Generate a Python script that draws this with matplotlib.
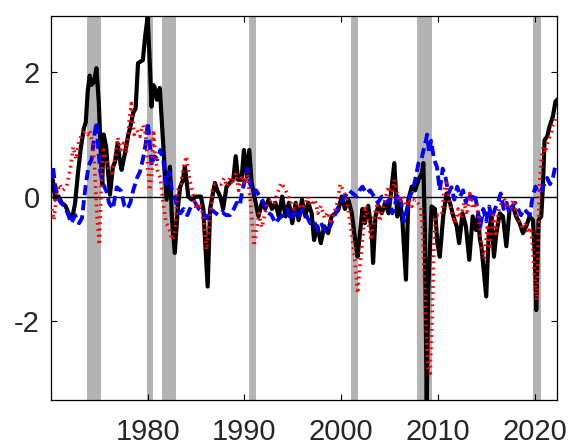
import numpy as np
import matplotlib
matplotlib.use("Agg")
import matplotlib.pyplot as plt

plt.rcParams['font.family'] = ['Liberation Sans', 'DejaVu Sans']

# recession periods (start, end)
recessions = [(1973.75, 1975.15), (1979.95, 1980.55), (1981.45, 1982.9),
              (1990.45, 1991.15), (2001.0, 2001.75), (2007.85, 2009.4),
              (2019.85, 2020.7)]

# black solid series
black_t = [1970.0, 1970.2, 1970.45, 1970.8, 1971.1, 1971.5, 1971.9, 1972.2, 1972.5, 1972.8,
           1973.1, 1973.4, 1973.6, 1973.8, 1974.0, 1974.2, 1974.45, 1974.7, 1974.95, 1975.2,
           1975.3, 1975.45, 1975.7, 1975.9, 1976.1, 1976.4, 1976.6, 1976.9, 1977.1, 1977.3,
           1977.65, 1978.0, 1978.2, 1978.5, 1978.75, 1979.0, 1979.5, 1979.75, 1980.0, 1980.2,
           1980.4, 1980.55, 1980.7, 1980.95, 1981.25, 1981.6, 1981.95, 1982.3, 1982.5, 1982.8,
           1983.1, 1983.35, 1983.6, 1983.85, 1984.2, 1984.55, 1985.0, 1985.5, 1985.75, 1986.2,
           1986.45, 1986.95, 1987.2, 1987.5, 1987.8, 1988.15, 1988.5, 1988.85, 1989.1, 1989.35,
           1989.7, 1989.95, 1990.25, 1990.5, 1990.75, 1991.1, 1991.45, 1991.8, 1992.15, 1992.5,
           1992.85, 1993.2, 1993.55, 1993.9, 1994.25, 1994.6, 1994.95, 1995.3, 1995.6, 1995.95,
           1996.3, 1996.6, 1996.95, 1997.2, 1997.55, 1997.9, 1998.25, 1998.65, 1999.0, 1999.4,
           1999.7, 2000.05, 2000.4, 2000.75, 2001.1, 2001.45, 2001.7, 2001.95, 2002.2, 2002.45,
           2002.8, 2003.15, 2003.3, 2003.55, 2003.85, 2004.2, 2004.55, 2004.9, 2005.15, 2005.5,
           2005.8, 2006.1, 2006.35, 2006.7, 2006.95, 2007.3, 2007.65, 2008.0, 2008.35, 2008.5,
           2008.65, 2008.85, 2009.0, 2009.35, 2009.7, 2009.95, 2010.2, 2010.55, 2010.9, 2011.25,
           2011.6, 2011.95, 2012.2, 2012.55, 2012.9, 2013.25, 2013.6, 2013.95, 2014.15, 2014.35,
           2014.5, 2014.77, 2015.0, 2015.26, 2015.54, 2015.8, 2016.05, 2016.4, 2016.73, 2017.08,
           2017.42, 2017.76, 2018.1, 2018.45, 2018.8, 2019.14, 2019.48, 2019.83, 2020.05, 2020.17,
           2020.41, 2020.69, 2020.86, 2021.03, 2021.31, 2021.55, 2021.89, 2022.16, 2022.27]
black_v = [0.38, 0.25, -0.05, 0.0, -0.1, -0.15, -0.3, -0.35, -0.1, 0.4,
           0.8, 1.1, 1.2, 1.7, 1.95, 1.8, 1.85, 2.07, 1.5, 0.5,
           0.2, 1.0, 0.8, 0.4, 0.03, 0.48, 0.55, 0.86, 0.6, 0.43,
           0.7, 1.0, 1.12, 1.35, 1.42, 2.15, 2.2, 2.6, 2.9, 2.2,
           1.45, 1.8, 1.77, 1.56, 1.75, 0.86, -0.05, 0.48, -0.33, -0.91,
           -0.21, 0.15, 0.25, 0.48, 0.0, -0.05, 0.0, 0.0, -0.2, -1.45,
           -0.2, 0.22, 0.1, 0.0, -0.2, 0.16, 0.22, 0.27, 0.65, 0.27,
           0.27, 0.75, 0.32, 0.75, 0.22, -0.05, -0.32, -0.1, -0.2, -0.05,
           -0.2, -0.1, -0.32, 0.0, -0.32, -0.1, -0.43, -0.1, -0.38, -0.05,
           -0.32, -0.1, -0.27, -0.7, -0.48, -0.75, -0.48, -0.59, -0.32, -0.27,
           -0.22, 0.0, -0.2, -0.05, -0.27, -0.7, -0.97, -0.59, -0.2, -0.43,
           -0.15, -0.54, -1.07, -0.32, -0.15, -0.27, -0.1, -0.27, 0.05, 0.54,
           -0.32, -0.05, -0.43, -1.34, -0.05, 0.16, 0.1, 0.27, 0.38, 0.54,
           -0.5, -3.4, -1.56, -0.16, -0.2, -0.75, -0.97, -0.32, 0.05, -0.1,
           -0.32, -0.48, -0.75, -0.27, -0.48, -1.02, -0.32, -0.54, -0.3, -0.7,
           -0.8, -1.23, -1.61, -0.59, -0.32, -0.97, -0.59, -0.27, -0.32, -0.8,
           -0.2, -0.16, -0.32, -0.43, -0.59, -0.48, -0.32, -0.38, -1.0, -1.83,
           -0.38, -0.32, 0.16, 0.91, 0.97, 1.13, 1.29, 1.53, 1.55]

# red dotted series
red_t = [1970.1, 1970.3, 1970.6, 1970.9, 1971.2, 1971.6, 1972.0, 1972.3, 1972.6, 1972.9,
         1973.2, 1973.5, 1973.8, 1974.0, 1974.3, 1974.5, 1974.75, 1975.0, 1975.2, 1975.4,
         1975.7, 1976.0, 1976.3, 1976.6, 1976.9, 1977.2, 1977.5, 1977.8, 1978.1, 1978.3,
         1978.6, 1978.9, 1979.2, 1979.5, 1979.8, 1980.0, 1980.2, 1980.4, 1980.6, 1980.8,
         1981.0, 1981.3, 1981.6, 1981.9, 1982.2, 1982.5, 1982.8, 1983.1, 1983.4, 1983.7,
         1984.0, 1984.3, 1984.6, 1985.0, 1985.3, 1985.6, 1985.9, 1986.1, 1986.4, 1986.7,
         1987.0, 1987.3, 1987.6, 1987.9, 1988.2, 1988.5, 1988.8, 1989.1, 1989.4, 1989.7,
         1990.0, 1990.3, 1990.6, 1990.8, 1991.0, 1991.2, 1991.5, 1991.8, 1992.1, 1992.4,
         1992.8, 1993.1, 1993.4, 1993.8, 1994.1, 1994.4, 1994.8, 1995.1, 1995.5, 1995.9,
         1996.2, 1996.6, 1996.9, 1997.3, 1997.6, 1997.9, 1998.3, 1998.6, 1998.9, 1999.2,
         1999.6, 1999.9, 2000.2, 2000.5, 2000.8, 2001.1, 2001.4, 2001.7, 2001.9, 2002.2,
         2002.5, 2002.8, 2003.1, 2003.4, 2003.7, 2004.0, 2004.3, 2004.6, 2004.9, 2005.2,
         2005.5, 2005.8, 2006.1, 2006.4, 2006.7, 2007.0, 2007.3, 2007.6, 2007.9, 2008.2,
         2008.4, 2008.6, 2008.8, 2009.0, 2009.2, 2009.4, 2009.6, 2009.8, 2010.1, 2010.4,
         2010.7, 2010.9, 2011.2, 2011.5, 2011.8, 2012.1, 2012.4, 2012.7, 2013.0, 2013.3,
         2013.6, 2013.9, 2014.2, 2014.5, 2014.8, 2015.1, 2015.4, 2015.7, 2016.0, 2016.3,
         2016.6, 2016.9, 2017.2, 2017.5, 2017.8, 2018.1, 2018.4, 2018.7, 2019.0, 2019.3,
         2019.6, 2019.8, 2020.0, 2020.2, 2020.35, 2020.5, 2020.7, 2020.9, 2021.1, 2021.4,
         2021.7, 2021.9, 2022.2]
red_v = [-0.2, -0.38, 0.05, 0.2, 0.1, 0.15, 0.45, 0.8, 0.6, 0.9,
         1.0, 1.05, 1.0, 1.07, 0.86, 0.5, -0.3, -0.78, 0.2, 0.75,
         0.6, 0.45, 0.38, 0.6, 0.95, 0.75, 0.86, 0.7, 1.24, 1.5,
         1.0, 1.07, 0.97, 1.15, 1.0, 0.5, 0.1, 0.3, 1.07, 0.6,
         0.43, 0.3, -0.1, -0.43, -0.5, -0.7, -0.6, 0.1, 0.2, 0.48,
         0.65, 0.3, 0.1, -0.2, -0.1, -0.2, -0.6, -0.86, -0.4, 0.1,
         0.2, 0.2, 0.2, 0.3, 0.16, 0.3, 0.2, 0.38, 0.1, 0.3,
         0.2, 0.35, -0.05, -0.4, -0.8, -0.6, -0.27, -0.5, -0.3, -0.1,
         -0.05, -0.1, 0.05, 0.22, 0.15, 0.05, -0.1, -0.2, -0.1, -0.2,
         -0.15, 0.0, -0.15, -0.05, -0.27, -0.15, -0.35, -0.25, -0.4, -0.3,
         -0.1, 0.2, 0.1, 0.0, -0.27, -0.6, -1.0, -1.56, -1.2, -0.7,
         -0.15, -0.4, -0.7, -0.3, -0.15, -0.4, -0.2, 0.0, 0.16, -0.05,
         0.27, 0.05, -0.1, 0.0, -0.16, -0.05, -0.16, -0.05, -0.1, -0.16,
         -0.5, -1.3, -2.2, -2.8, -2.85, -2.0, -0.75, -0.3, -0.3, -0.3,
         0.16, 0.22, -0.1, -0.3, -0.43, -0.2, -0.35, -0.1, -0.3, 0.05,
         -0.2, -0.1, -0.3, -0.8, -1.0, -0.5, -0.8, -0.3, -0.6, -0.2,
         -0.1, -0.05, -0.15, -0.2, -0.05, -0.27, -0.4, -0.5, -0.45, -0.59,
         -0.5, -0.8, -1.3, -1.67, -0.8, 0.16, 0.6, 0.8, 0.7, 0.91,
         1.0, 1.15, 1.29]

# blue dashed series
blue_t = [1970.0, 1970.2, 1970.4, 1970.7, 1971.0, 1971.4, 1971.8, 1972.1, 1972.5, 1972.9,
          1973.2, 1973.6, 1973.9, 1974.2, 1974.5, 1974.7, 1974.9, 1975.1, 1975.4, 1975.7,
          1976.0, 1976.4, 1976.8, 1977.2, 1977.6, 1977.9, 1978.2, 1978.5, 1978.9, 1979.2,
          1979.5, 1979.8, 1980.0, 1980.2, 1980.4, 1980.7, 1981.0, 1981.3, 1981.6, 1981.9,
          1982.2, 1982.5, 1982.8, 1983.1, 1983.4, 1983.7, 1984.1, 1984.5, 1984.9, 1985.3,
          1985.7, 1986.1, 1986.5, 1986.9, 1987.3, 1987.7, 1988.1, 1988.5, 1988.9, 1989.2,
          1989.5, 1989.8, 1990.1, 1990.3, 1990.6, 1990.9, 1991.2, 1991.6, 1992.0, 1992.4,
          1992.8, 1993.2, 1993.6, 1994.0, 1994.4, 1994.8, 1995.2, 1995.6, 1996.0, 1996.4,
          1996.8, 1997.2, 1997.6, 1998.0, 1998.4, 1998.8, 1999.2, 1999.6, 2000.0, 2000.4,
          2000.8, 2001.2, 2001.6, 2001.9, 2002.2, 2002.6, 2003.0, 2003.4, 2003.8, 2004.2,
          2004.6, 2005.0, 2005.3, 2005.6, 2005.9, 2006.2, 2006.5, 2006.8, 2007.1, 2007.4,
          2007.7, 2008.0, 2008.3, 2008.6, 2008.9, 2009.1, 2009.3, 2009.6, 2009.9, 2010.2,
          2010.5, 2010.8, 2011.1, 2011.4, 2011.7, 2012.0, 2012.3, 2012.6, 2012.9, 2013.2,
          2013.5, 2013.8, 2014.1, 2014.4, 2014.7, 2015.0, 2015.3, 2015.6, 2015.9, 2016.2,
          2016.5, 2016.8, 2017.1, 2017.4, 2017.7, 2018.0, 2018.3, 2018.6, 2018.9, 2019.2,
          2019.5, 2019.8, 2020.1, 2020.4, 2020.7, 2021.0, 2021.3, 2021.6, 2021.9, 2022.2]
blue_v = [0.3, 0.5, 0.2, 0.0, -0.1, -0.15, -0.3, -0.43, -0.3, -0.43,
          -0.35, 0.2, 0.5, 0.6, 1.0, 1.2, 0.75, 0.4, 0.2, 0.1,
          -0.1, -0.2, 0.15, 0.1, -0.15, -0.2, -0.1, 0.1, 0.3, 0.4,
          0.6, 0.86, 1.2, 0.9, 0.5, 0.65, 0.6, 0.75, 0.6, 0.2,
          0.4, 0.1, 0.0, -0.2, -0.27, -0.2, -0.3, -0.15, -0.1, -0.2,
          -0.25, -0.35, -0.2, -0.25, -0.3, -0.25, -0.3, -0.3, -0.2, -0.1,
          -0.15, 0.1, 0.3, 0.45, 0.2, 0.05, 0.1, 0.0, -0.1, -0.25,
          -0.3, -0.43, -0.35, -0.3, -0.2, -0.38, -0.25, -0.35, -0.2, -0.3,
          -0.43, -0.4, -0.55, -0.45, -0.59, -0.5, -0.35, -0.2, -0.1, 0.0,
          0.1, 0.05, 0.0, 0.1, 0.16, 0.05, 0.1, 0.0, -0.1, 0.0,
          -0.1, -0.05, -0.27, -0.1, 0.05, -0.1, -0.4, -0.2, 0.0, 0.1,
          0.3, 0.54, 0.6, 0.8, 1.0, 0.7, 0.9, 0.6, 0.48, 0.1,
          0.45, 0.3, 0.05, 0.15, -0.05, 0.16, 0.0, 0.1, -0.1, 0.05,
          -0.05, 0.05, -0.2, -0.48, -0.2, -0.4, -0.16, -0.35, -0.2, -0.1,
          0.05, -0.2, -0.1, -0.27, -0.15, -0.1, -0.2, -0.3, -0.2, -0.25,
          -0.3, 0.0, 0.16, 0.05, 0.1, 0.2, 0.3, 0.2, 0.3, 0.54]

xticks = [1980, 1990, 2000, 2010, 2020]
yticks = [-2, 0, 2]
ytick_labels = ['-2', '0', '2']

fig = plt.figure(figsize=(5.69, 4.45), dpi=100)
ax = fig.add_axes([0.0896, 0.101, 0.889, 0.863])

for a, b in recessions:
    ax.axvspan(a, b, color='#b3b3b3', lw=0, zorder=0)

ax.axhline(0, color='black', lw=1.0, zorder=1)
ax.plot(black_t, black_v, color='black', lw=3.0, zorder=2)
ax.plot(blue_t, blue_v, color='blue', lw=2.8, dashes=(2.6, 1.3), zorder=3)
ax.plot(red_t, red_v, color='red', lw=2.6, dashes=(0.5, 1.2), zorder=4)

ax.set_xlim(1970, 2022.3)
ax.set_ylim(-3.28, 2.91)
ax.set_xticks(xticks)
ax.set_yticks(yticks)
ax.set_yticklabels(ytick_labels)
ax.tick_params(direction='in', top=True, right=True, length=4, width=0.8,
               labelsize=21, labelcolor='#262626')
ax.tick_params(axis='x', pad=13)
ax.tick_params(axis='y', pad=8)
for s in ax.spines.values():
    s.set_linewidth(0.9)

fig.savefig('out.png', dpi=100)
